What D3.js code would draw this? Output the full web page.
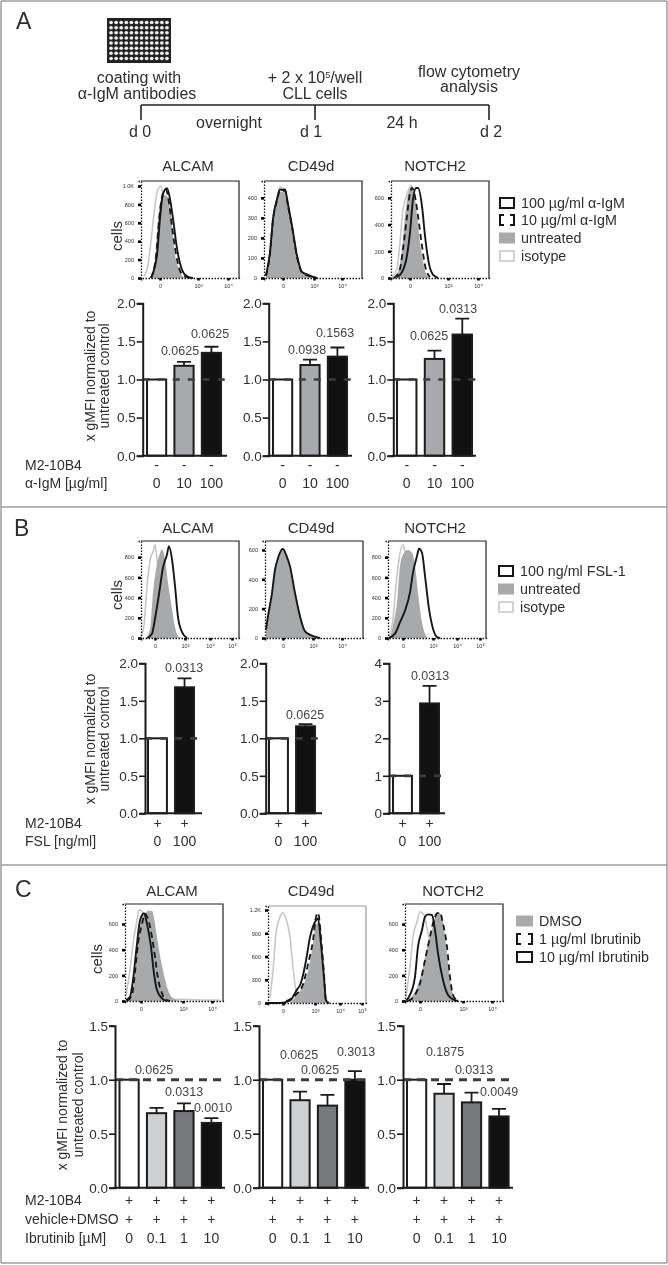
<!DOCTYPE html>
<html><head><meta charset="utf-8">
<script src="https://cdnjs.cloudflare.com/ajax/libs/d3/7.8.5/d3.min.js"></script>
<style>
html,body{margin:0;padding:0;background:#fff}
svg{display:block;filter:blur(.35px)}
text{font-family:"Liberation Sans",Arial,sans-serif;fill:#2e2e2e}
</style></head><body>
<svg id="c" width="668" height="1265"></svg>
<script>
// ---------- bar chart data ----------
const doseA = ["0","10","100"], doseB = ["0","100"], doseC = ["0","0.1","1","10"];
const aAlcamMean=[1,1.18,1.35], aAlcamErr=[1,1.23,1.43], aAlcamP=["0.0625","0.0625"];
const aCd49Mean=[1,1.19,1.30], aCd49Err=[1,1.26,1.42], aCd49P=["0.0938","0.1563"];
const aNotchMean=[1,1.27,1.59], aNotchErr=[1,1.38,1.80], aNotchP=["0.0625","0.0313"];
const bAlcamMean=[1,1.68], bAlcamErr=[1,1.80], bAlcamP=["0.0313"];
const bCd49Mean=[1,1.16], bCd49Err=[1,1.19], bCd49P=["0.0625"];
const bNotchMean=[1,2.93], bNotchErr=[1,3.40], bNotchP=["0.0313"];
const cAlcamMean=[1,.69,.71,.60], cAlcamErr=[1,.74,.78,.645], cAlcamP=["0.0625","0.0313","0.0010"];
const cCd49Mean=[1,.81,.76,1.0], cCd49Err=[1,.89,.86,1.08], cCd49P=["0.0625","0.0625","0.3013"];
const cNotchMean=[1,.87,.79,.66], cNotchErr=[1,.96,.88,.73], cNotchP=["0.1875","0.0313","0.0049"];
const ticks2=[0,.5,1,1.5,2], ticks4=[0,1,2,3,4], ticks15=[0,.5,1,1.5];

// ---------- histogram data: [display channel, cell count] ----------
const aAlcamIgm100=[[10,0],[16,250],[19,645],[22,914],[26,975],[29,860],[32,645],[36,322],[41,90],[46,18],[52,0]];
const aAlcamIgm10=[[10,0],[15,240],[18,620],[21,880],[25,960],[28,820],[31,560],[35,260],[39,80],[44,15],[50,0]];
const aAlcamUntr=[[9,0],[14,200],[17,630],[22,900],[25,900],[30,680],[33,330],[39,70],[43,0]];
const aAlcamIso=[[3,18],[7,143],[11,500],[14,790],[17,967],[20,1000],[22,895],[26,645],[29,322],[33,72],[37,7]];
const aCd49Igm100=[[2,13],[6,129],[9,294],[13,393],[16,442],[19,439],[21,442],[24,368],[28,261],[33,112],[38,30],[44,16],[53,0]];
const aCd49Igm10=[[2,10],[6,122],[9,288],[13,388],[16,436],[19,434],[21,438],[24,360],[28,255],[33,106],[38,27],[44,12],[53,0]];
const aCd49Untr=[[2,8],[6,118],[9,284],[13,384],[16,432],[19,430],[21,432],[24,356],[28,250],[33,100],[38,22],[44,8],[50,0]];
const aCd49Iso=[[2,10],[6,125],[9,290],[13,395],[16,455],[19,445],[21,440],[24,362],[28,255],[33,104],[38,24],[44,10],[50,0]];
const aNotchIgm100=[[6,7],[11,44],[16,168],[19,341],[22,588],[25,674],[27,674],[31,538],[34,316],[38,106],[42,25],[47,0]];
const aNotchIgm10=[[3,0],[9,69],[12,217],[16,464],[19,637],[21,674],[24,612],[27,464],[31,242],[34,94],[39,7]];
const aNotchUntr=[[2,0],[7,44],[11,217],[14,464],[17,625],[21,687],[23,625],[26,440],[30,217],[34,57],[39,0]];
const aNotchIso=[[1,7],[6,69],[9,267],[12,514],[16,625],[20,692],[22,662],[26,440],[29,168],[32,32],[36,0]];
const bAlcamFsl=[[6,0],[11,43],[14,190],[18,435],[22,697],[26,827],[28,909],[31,778],[34,516],[37,206],[41,59],[46,0]];
const bAlcamUntr=[[5,0],[9,92],[12,451],[15,680],[18,811],[21,876],[24,778],[27,549],[31,288],[34,108],[38,10],[41,0]];
const bAlcamIso=[[0,10],[3,124],[6,516],[10,811],[12,850],[14,925],[16,778],[20,418],[24,92],[27,10]];
const bCd49Fsl=[[1,57],[3,148],[7,306],[10,465],[13,545],[18,606],[21,568],[25,488],[30,306],[35,148],[40,45],[47,16],[55,0]];
const bCd49Untr=[[1,50],[3,140],[7,298],[10,458],[13,538],[18,596],[21,560],[25,478],[30,296],[35,138],[40,38],[47,10],[52,0]];
const bCd49Iso=[[1,52],[3,142],[7,300],[10,460],[13,540],[17,610],[21,562],[25,480],[30,298],[35,140],[40,40],[47,12],[52,0]];
const bNotchFsl=[[1,0],[7,43],[12,157],[17,271],[22,451],[25,647],[29,811],[31,883],[34,844],[37,615],[41,288],[45,92],[49,10],[52,0]];
const bNotchUntr=[[2,0],[5,124],[9,353],[12,713],[15,827],[20,870],[24,844],[27,713],[30,451],[34,157],[37,43],[40,0]];
const bNotchIso=[[1,10],[5,190],[8,517],[11,778],[15,925],[17,844],[20,680],[25,353],[30,92],[35,0]];
const cAlcamDmso=[[1,8],[7,46],[10,214],[13,446],[17,653],[20,679],[23,704],[27,704],[30,601],[33,446],[38,240],[43,85],[48,21],[55,0]];
const cAlcamIso=[[1,46],[5,240],[8,446],[12,627],[14,710],[18,691],[22,575],[27,446],[32,266],[38,85],[45,13],[55,13],[75,8],[95,8]];
const cAlcamIbr10=[[1,8],[5,34],[8,163],[12,446],[15,627],[19,684],[22,601],[26,421],[29,214],[32,85],[37,21],[42,0]];
const cAlcamIbr1=[[2,0],[7,46],[10,227],[13,446],[17,601],[20,679],[23,640],[27,498],[30,343],[33,175],[37,59],[40,13],[45,0]];
const cCd49Dmso=[[22,0],[28,87],[35,218],[40,414],[45,763],[48,1025],[52,1025],[55,458],[58,22],[60,0]];
const cCd49Iso=[[2,65],[5,414],[8,894],[12,1112],[15,1164],[18,1090],[22,850],[25,458],[28,153],[32,22]];
const cCd49Ibr10=[[0,0],[12,0],[22,31],[28,153],[33,262],[38,545],[42,850],[47,1046],[50,1090],[53,763],[56,327],[58,31],[61,0]];
const cCd49Ibr1=[[18,22],[28,109],[35,240],[40,501],[45,807],[48,1112],[50,1164],[53,850],[56,371],[58,31],[61,0]];
const cNotchDmso=[[2,0],[8,47],[13,125],[18,268],[23,450],[27,554],[30,658],[33,697],[37,658],[40,502],[43,294],[47,86],[52,0]];
const cNotchIso=[[1,34],[5,268],[8,502],[12,619],[15,697],[19,671],[23,528],[28,320],[33,151],[38,47],[45,0]];
const cNotchIbr10=[[1,0],[5,47],[10,190],[13,424],[17,554],[20,658],[23,676],[27,671],[30,554],[33,372],[38,164],[43,47],[49,8],[53,0]];
const cNotchIbr1=[[3,0],[10,47],[15,138],[20,320],[25,502],[28,606],[32,684],[35,689],[38,606],[42,424],[45,190],[48,47],[53,0]];

// ---------- labels ----------
const histTitles=["ALCAM","CD49d","NOTCH2"];
const legendA=["100 µg/ml α-IgM","10 µg/ml α-IgM","untreated","isotype"];
const legendB=["100 ng/ml FSL-1","untreated","isotype"];
const legendC=["DMSO","1 µg/ml Ibrutinib","10 µg/ml Ibrutinib"];
const yTitle=["x gMFI normalized to","untreated control"];

// ---------- drawing ----------
const svg=d3.select("#c");
const FILL="#a8a9ab", ISO="#c6c7c8", INK="#161616";
function txt(x,y,s,size,anchor,rot){
  const t=svg.append("text").attr("font-size",size).attr("text-anchor",anchor||"start").text(s);
  if(rot) t.attr("transform",`translate(${x},${y}) rotate(-90)`); else t.attr("x",x).attr("y",y);
  return t;
}
// panel borders
[[1,1,667,1],[1,1,1,1263],[667,1,667,1263],[1,507,667,507],[1,865,667,865],[1,1263,667,1263]].forEach(l=>
  svg.append("line").attr("x1",l[0]).attr("y1",l[1]).attr("x2",l[2]).attr("y2",l[3]).attr("stroke","#9c9c9c").attr("stroke-width",1.5));
[["A",16,29],["B",14,536],["C",15,897]].forEach(d=>txt(d[1],d[2],d[0],23));

// plate icon
const plate=svg.append("g");
plate.append("rect").attr("x",107).attr("y",18).attr("width",64).attr("height",45).attr("fill","#222");
const wc=d3.scaleBand().domain(d3.range(12)).range([108.5,169.5]);
const wr=d3.scaleBand().domain(d3.range(8)).range([20,61]);
d3.range(8).forEach(r=>d3.range(12).forEach(c=>plate.append("ellipse")
  .attr("cx",wc(c)+wc.bandwidth()/2).attr("cy",wr(r)+wr.bandwidth()/2).attr("rx",1.9).attr("ry",1.8).attr("fill","#eee")));
// timeline
[[141,105,489,105],[141,105,141,120],[315,105,315,120],[489,105,489,120]].forEach(l=>
  svg.append("line").attr("x1",l[0]).attr("y1",l[1]).attr("x2",l[2]).attr("y2",l[3]).attr("stroke","#222").attr("stroke-width",1.6));
[["coating with",139,83],["α-IgM antibodies",137,99],["CLL cells",315,99],["flow cytometry",469,77],["analysis",469,92],
 ["overnight",229,128],["24 h",402,128],["d 0",140,137],["d 1",311,137],["d 2",491,137]].forEach(d=>txt(d[1],d[2],d[0],16,"middle"));
const sup=txt(315,83,"+ 2 x 10",16,"middle");
sup.append("tspan").attr("dy",-5).attr("font-size",9).text("5");
sup.append("tspan").attr("dy",5).text("/well");

function hist(h){
  const g=svg.append("g");
  const x=d3.scaleLinear().domain([0,98]).range([h.left,h.left+98]);
  const y=d3.scaleLinear().domain([0,h.max]).range([h.bottom,h.bottom-97]);
  const line=d3.line().x(d=>x(d[0])).y(d=>y(d[1])).curve(d3.curveMonotoneX);
  const area=d3.area().x(d=>x(d[0])).y0(y(0)).y1(d=>y(d[1])).curve(d3.curveMonotoneX);
  g.append("path").attr("d",line(h.iso)).attr("fill","none").attr("stroke",ISO).attr("stroke-width",1.6);
  g.append("path").attr("d",area(h.fill)).attr("fill",FILL);
  if(h.dash) g.append("path").attr("d",line(h.dash)).attr("fill","none").attr("stroke",INK).attr("stroke-width",1.8).attr("stroke-dasharray","6 4");
  g.append("path").attr("d",line(h.solid)).attr("fill","none").attr("stroke",INK).attr("stroke-width",1.9);
  // frame
  g.append("path").attr("d",`M${h.left},${h.bottom-97}H${h.left+98}V${h.bottom}`).attr("fill","none").attr("stroke",h.greyFrame?"#999":"#222").attr("stroke-width",1.2);
  const ay=g.append("g").attr("transform",`translate(${h.left},0)`)
    .call(d3.axisLeft(y).tickValues(h.yt).tickSize(3).tickPadding(4).tickFormat(v=>v>=1000?(v/1000).toFixed(1)+"K":v));
  const ax=g.append("g").attr("transform",`translate(0,${h.bottom})`)
    .call(d3.axisBottom(x).tickValues(h.xt).tickSize(2.5).tickPadding(4).tickFormat((v,i)=>h.xl[i]));
  [ay,ax].forEach(a=>{
    a.select(".domain").attr("stroke","#111").attr("stroke-width",1.3).attr("stroke-dasharray","1.5 1.5");
    a.selectAll(".tick line").attr("stroke","#000").attr("stroke-width",2.6);
    a.selectAll("text").attr("font-size",5.5).attr("font-family","Liberation Sans").attr("fill","#555");
  });
}
const XL3=["0","10³","10⁴"], XL4=["0","10³","10⁴","10⁵"];
const Y200=[0,200,400,600], Y800=[0,200,400,600,800];
[
 {left:141,bottom:278,max:1054,iso:aAlcamIso,fill:aAlcamUntr,dash:aAlcamIgm10,solid:aAlcamIgm100,yt:[0,200,400,600,800,1000],xt:[19,57,87],xl:XL3},
 {left:264,bottom:278,max:484,iso:aCd49Iso,fill:aCd49Untr,dash:aCd49Igm10,solid:aCd49Igm100,yt:[0,100,200,300,400],xt:[19,50,78],xl:XL3},
 {left:391,bottom:278,max:726,iso:aNotchIso,fill:aNotchUntr,dash:aNotchIgm10,solid:aNotchIgm100,yt:Y200,xt:[19,57,87],xl:XL3},
 {left:141,bottom:638,max:960,iso:bAlcamIso,fill:bAlcamUntr,solid:bAlcamFsl,yt:Y800,xt:[14,44,69,91],xl:XL4},
 {left:265,bottom:638,max:661,iso:bCd49Iso,fill:bCd49Untr,solid:bCd49Fsl,yt:Y200,xt:[18,48,77],xl:XL3},
 {left:388,bottom:638,max:960,iso:bNotchIso,fill:bNotchUntr,solid:bNotchFsl,yt:Y800,xt:[15,45,69,92],xl:XL4},
 {left:125,bottom:1001,max:756,iso:cAlcamIso,fill:cAlcamDmso,dash:cAlcamIbr1,solid:cAlcamIbr10,yt:Y200,xt:[16,58,87],xl:XL3},
 {left:268,bottom:1003,max:1252,iso:cCd49Iso,fill:cCd49Dmso,dash:cCd49Ibr1,solid:cCd49Ibr10,yt:[0,300,600,900,1200],xt:[15,47,72,94],xl:XL4,greyFrame:true},
 {left:405,bottom:1001,max:757,iso:cNotchIso,fill:cNotchDmso,dash:cNotchIbr1,solid:cNotchIbr10,yt:Y200,xt:[15,58,87],xl:XL3}
].forEach(hist);

// titles
[[171,[188,311,435]],[533,[188,311,435]],[896,[172,311,453]]].forEach(r=>
  r[1].forEach((cx,i)=>txt(cx,r[0],histTitles[i],15,"middle")));
[[122,236],[122,595],[102,959]].forEach(d=>txt(d[0],d[1],"cells",15,"middle",true));

// legends
function legend(x,tx,rows,labels,kinds,w){
  labels.forEach((s,i)=>{
    const k=kinds[i], top=rows[i]-5;
    if(k==="dash"){
      svg.append("path").attr("d",`M${x+5},${top}H${x+1}V${top+10}H${x+5}M${x+w-5},${top}H${x+w-1}V${top+10}H${x+w-5}`)
        .attr("fill","none").attr("stroke",INK).attr("stroke-width",2);
    } else {
      const r=svg.append("rect").attr("x",x+1).attr("y",top).attr("width",w-2).attr("height",10);
      if(k==="fill") r.attr("fill",FILL).attr("x",x).attr("width",w).attr("y",rows[i]-5.5).attr("height",11);
      if(k==="iso") r.attr("fill","#fff").attr("stroke",ISO).attr("stroke-width",1.6);
      if(k==="solid") r.attr("fill","#fff").attr("stroke",INK).attr("stroke-width",2);
    }
    txt(tx,rows[i]+5,s,14.3);
  });
}
legend(499,521,[203,220,238,256],legendA,["solid","dash","fill","iso"],16);
legend(498,520,[571,589,607],legendB,["solid","fill","iso"],16);
legend(516,539,[921,939,957],legendC,["fill","dash","solid"],17);

function bars(b){
  const g=svg.append("g");
  const names=b.mean.map((_,i)=>i);
  const x=d3.scaleBand().domain(names).range([b.l,b.r]).paddingInner(.3).paddingOuter(0);
  const y=d3.scaleLinear().domain([0,b.ticks[b.ticks.length-1]]).range([b.y0,b.y1]);
  g.selectAll("rect.bar").data(b.mean).join("rect").attr("class","bar")
    .attr("x",(d,i)=>x(i)).attr("width",x.bandwidth()).attr("y",d=>y(d)).attr("height",d=>y(0)-y(d))
    .attr("fill",(d,i)=>b.colors[i]).attr("stroke","#1c1c1c").attr("stroke-width",2);
  const cx=i=>x(i)+x.bandwidth()/2, cap=7;
  b.err.forEach((e,i)=>{ if(i===0) return;
    g.append("path").attr("d",`M${cx(i)},${y(b.mean[i])}V${y(e)}M${cx(i)-cap},${y(e)}H${cx(i)+cap}`)
      .attr("fill","none").attr("stroke","#1c1c1c").attr("stroke-width",1.8);
  });
  g.append("line").attr("x1",b.ax).attr("x2",b.end).attr("y1",y(1)).attr("y2",y(1))
    .attr("stroke","#3c3c3c").attr("stroke-width",b.dw).attr("stroke-dasharray",b.dd);
  g.append("line").attr("x1",b.ax-1).attr("x2",b.end).attr("y1",y(0)).attr("y2",y(0)).attr("stroke","#1c1c1c").attr("stroke-width",2);
  const a=g.append("g").attr("transform",`translate(${b.ax},0)`)
    .call(d3.axisLeft(y).tickValues(b.ticks).tickSize(6).tickPadding(1).tickFormat(b.fmt));
  a.select(".domain").attr("stroke","#1c1c1c").attr("stroke-width",2);
  a.selectAll(".tick line").attr("stroke","#1c1c1c").attr("stroke-width",1.6);
  a.selectAll("text").attr("font-size",13.5).attr("font-family","Liberation Sans").attr("fill","#1c1c1c");
  b.p.forEach((s,i)=>txt(b.pos[i][0],b.pos[i][1],s,12.5,"middle").style("fill","#444"));
  b.rows.forEach((row,i)=>names.forEach(n=>txt(cx(n),b.rowY[i],row[n],14,"middle")));
}
const f1=d3.format(".1f"), f0=d3.format("d");
const colA=["#fff","#a7a9ac","#111"], colB=["#fff","#111"], colC=["#fff","#cfd0d2","#77787b","#111"];
const dashA=d3.range(3).map(()=>"-"), plusB=d3.range(2).map(()=>"+"), plusC=d3.range(4).map(()=>"+");
const aBase={ticks:ticks2,fmt:f1,colors:colA,y0:455.7,y1:303.3,dw:2.7,dd:"7 8",rows:[dashA,doseA],rowY:[470,488]};
const bBase={colors:colB,y0:813.3,y1:663.3,dw:2.7,dd:"7 8",rows:[plusB,doseB],rowY:[828,846]};
const cBase={ticks:ticks15,fmt:f1,colors:colC,y0:1187.7,y1:1025.7,dw:3,dd:"8 6",rows:[plusC,plusC,doseC],rowY:[1205,1224,1243]};
[
 {...aBase,mean:aAlcamMean,err:aAlcamErr,p:aAlcamP,ax:142.7,l:147,r:221,end:227,pos:[[180,355],[210,338]]},
 {...aBase,mean:aCd49Mean,err:aCd49Err,p:aCd49P,ax:268.7,l:273,r:347,end:352,pos:[[307,354],[335,337]]},
 {...aBase,mean:aNotchMean,err:aNotchErr,p:aNotchP,ax:393.3,l:397,r:472,end:476,pos:[[429,340],[458,313]]},
 {...bBase,ticks:ticks2,fmt:f1,mean:bAlcamMean,err:bAlcamErr,p:bAlcamP,ax:145,l:148,r:194,end:202,pos:[[184,672]]},
 {...bBase,ticks:ticks2,fmt:f1,mean:bCd49Mean,err:bCd49Err,p:bCd49P,ax:265.7,l:269,r:315,end:322,pos:[[305,719]]},
 {...bBase,ticks:ticks4,fmt:f0,mean:bNotchMean,err:bNotchErr,p:bNotchP,ax:389,l:393,r:439,end:445,pos:[[430,680]]},
 {...cBase,mean:cAlcamMean,err:cAlcamErr,p:cAlcamP,ax:115,l:119.5,r:221,end:225,pos:[[154,1074],[184,1096],[213,1112]]},
 {...cBase,mean:cCd49Mean,err:cCd49Err,p:cCd49P,ax:259,l:263,r:364.5,end:369,pos:[[299,1059],[320,1074],[356,1056]]},
 {...cBase,mean:cNotchMean,err:cNotchErr,p:cNotchP,ax:403,l:407,r:508.6,end:513,pos:[[445,1056],[474,1074],[499,1096]]}
].forEach(bars);

// y titles
[[95,109,376],[95,109,739],[67,83,1105]].forEach(d=>{
  txt(d[0],d[2],yTitle[0],14,"middle",true);
  txt(d[1],d[2],yTitle[1],14,"middle",true);
});
// row headers
[["M2-10B4",470],["α-IgM [µg/ml]",488],["M2-10B4",828],["FSL [ng/ml]",846],["M2-10B4",1205],["vehicle+DMSO",1224],["Ibrutinib [µM]",1243]]
  .forEach(d=>txt(25,d[1],d[0],14));
</script>
</body></html>
